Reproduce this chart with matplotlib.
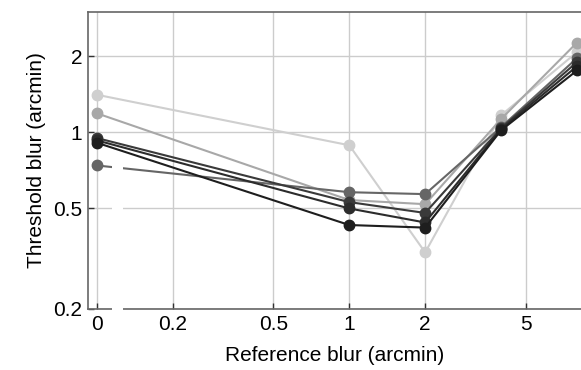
import matplotlib
matplotlib.use("Agg")
import matplotlib.pyplot as plt
import matplotlib.transforms as mtransforms
from matplotlib.patches import Rectangle
from matplotlib.ticker import FixedLocator, FixedFormatter, NullLocator

plt.rcParams['font.family'] = ['Liberation Sans', 'DejaVu Sans']

# reference blur values (arcmin); 0 is drawn at 0.1 on the log axis
ref_blur = [0, 1, 2, 4, 8]
zero_pos = 0.1

# threshold blur per observer (arcmin)
obs_a = [1.41, 0.89, 0.335, 1.17, 2.08]
obs_b = [1.19, 0.54, 0.52, 1.13, 2.27]
obs_c = [0.74, 0.58, 0.57, 1.05, 1.97]
obs_d = [0.95, 0.53, 0.48, 1.04, 1.90]
obs_e = [0.93, 0.50, 0.44, 1.03, 1.83]
obs_f = [0.91, 0.43, 0.42, 1.02, 1.76]

series = [obs_a, obs_b, obs_c, obs_d, obs_e, obs_f]
colors = ['#cfcfcf', '#a8a8a8', '#666666', '#3a3a3a', '#2c2c2c', '#1e1e1e']

x_ticks = [0.1, 0.2, 0.5, 1, 2, 5]
x_labels = ['0', '0.2', '0.5', '1', '2', '5']
y_ticks = [0.2, 0.5, 1, 2]
y_labels = ['0.2', '0.5', '1', '2']

fig = plt.figure(figsize=(5.81, 3.70), dpi=100)
ax = fig.add_axes([0.1515, 0.165, 0.8485, 0.8025])
ax.set_xscale('log')
ax.set_yscale('log')

xs = [zero_pos if v == 0 else v for v in ref_blur]
for vals, c in zip(series, colors):
    ax.plot(xs, vals, '-o', color=c, lw=1.5, ms=7.5, mec=c, zorder=3)

ax.set_xlim(0.092, 8.3)
ax.set_ylim(0.2, 3.0)

ax.xaxis.set_major_locator(FixedLocator(x_ticks))
ax.xaxis.set_major_formatter(FixedFormatter(x_labels))
ax.xaxis.set_minor_locator(NullLocator())
ax.yaxis.set_major_locator(FixedLocator(y_ticks))
ax.yaxis.set_major_formatter(FixedFormatter(y_labels))
ax.yaxis.set_minor_locator(NullLocator())

ax.grid(True, color='#cccccc', lw=1.0, zorder=0)
ax.set_axisbelow(True)
ax.tick_params(direction='in', length=4, width=1, color='#333333',
               labelsize=15, pad=4)
for side in ['left', 'bottom', 'top']:
    ax.spines[side].set_color('#666666')
    ax.spines[side].set_linewidth(1.2)
ax.spines['right'].set_visible(False)

ax.set_xlabel('Reference blur (arcmin)', fontsize=15, labelpad=9)
ax.set_ylabel('Threshold blur (arcmin)', fontsize=15, labelpad=5)

# axis break between the zero point and the log range
trans = mtransforms.blended_transform_factory(ax.transData, ax.transAxes)
ax.add_patch(Rectangle((0.1147, -0.03), 0.0121, 0.55, transform=trans,
                       facecolor='white', edgecolor='none',
                       clip_on=False, zorder=10))

fig.savefig('out.png', dpi=100)
